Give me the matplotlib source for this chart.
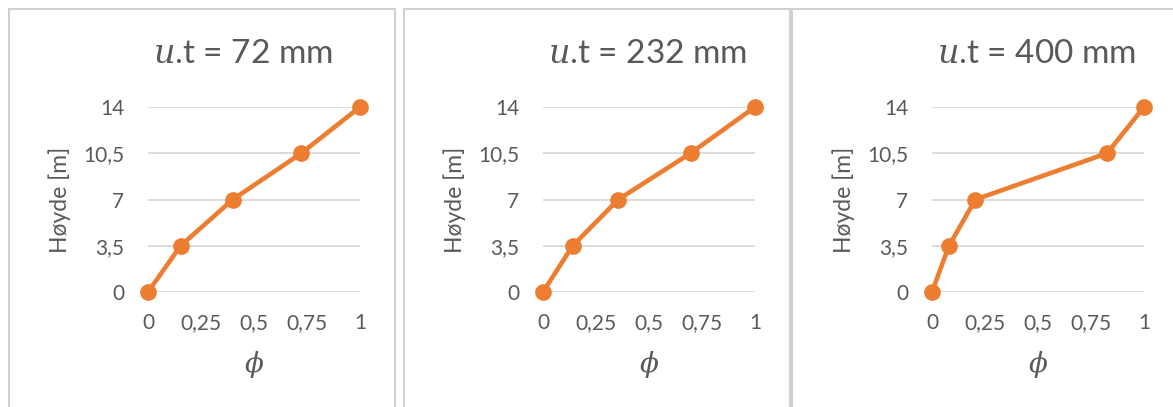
import matplotlib
matplotlib.use("Agg")
import matplotlib.pyplot as plt
from matplotlib.patches import Rectangle

# Verdier lest av figuren
heights = [0, 3.5, 7, 10.5, 14]
phi_72 = [0, 0.154, 0.40, 0.723, 1]
phi_232 = [0, 0.14, 0.355, 0.696, 1]
phi_400 = [0, 0.08, 0.205, 0.826, 1]
titles = ["$u$.t = 72 mm", "$u$.t = 232 mm", "$u$.t = 400 mm"]
x_ticks = [0, 0.25, 0.5, 0.75, 1]
x_ticklabels = ["0", "0,25", "0,5", "0,75", "1"]
y_ticks = [0, 3.5, 7, 10.5, 14]
y_ticklabels = ["0", "3,5", "7", "10,5", "14"]

W, H = 1173, 407
ORANGE = "#ED7D31"
GREY_TXT = "#595959"
GRID = "#D9D9D9"

plt.rcParams["font.family"] = ["Lato", "DejaVu Sans"]
plt.rcParams["mathtext.fontset"] = "dejavuserif"

fig = plt.figure(figsize=(W / 100, H / 100), dpi=100)
fig.patch.set_facecolor("white")

# rammer rundt hvert diagram (piksler)
frames = [(9, 395), (404, 790), (792, 1180)]
for x0, x1 in frames:
    fig.patches.append(Rectangle((x0 / W, -0.1), (x1 - x0) / W, 1.1 - 9 / H,
                                 transform=fig.transFigure, fill=False,
                                 edgecolor="#D0D0D0", linewidth=1.5))

ax_left = [148, 543, 932]
ax_w = 212
y_top, y_bot = 107, 292
title_x = [243, 648, 1037]
series = [phi_72, phi_232, phi_400]

for i, phis in enumerate(series):
    ax = fig.add_axes([ax_left[i] / W, 1 - y_bot / H, ax_w / W, (y_bot - y_top) / H])
    ax.plot(phis, heights, color=ORANGE, lw=3.3, marker="o", ms=11,
            clip_on=False, zorder=3)
    ax.set_xlim(0, 1)
    ax.set_ylim(0, 14)
    ax.set_xticks(x_ticks)
    ax.set_xticklabels(x_ticklabels)
    ax.set_yticks(y_ticks)
    ax.set_yticklabels(y_ticklabels)
    ax.tick_params(length=0, labelsize=15, colors=GREY_TXT)
    ax.tick_params(axis="x", pad=15)
    ax.tick_params(axis="y", pad=17)
    ax.grid(axis="y", color=GRID, lw=1.3)
    ax.set_axisbelow(True)
    for s in ax.spines.values():
        s.set_visible(False)

    cx = (ax_left[i] + ax_w / 2) / W
    fig.text(cx, 1 - 365 / H, r"$\phi$", ha="center", va="center",
             fontsize=20, color=GREY_TXT)
    fig.text((ax_left[i] - 88) / W, 1 - 200 / H, "Høyde [m]", rotation=90,
             ha="center", va="center", fontsize=16.5, color=GREY_TXT)
    fig.text(title_x[i] / W, 1 - 54 / H, titles[i], ha="center", va="center",
             fontsize=24, color=GREY_TXT)

fig.savefig("out.png", dpi=100)
